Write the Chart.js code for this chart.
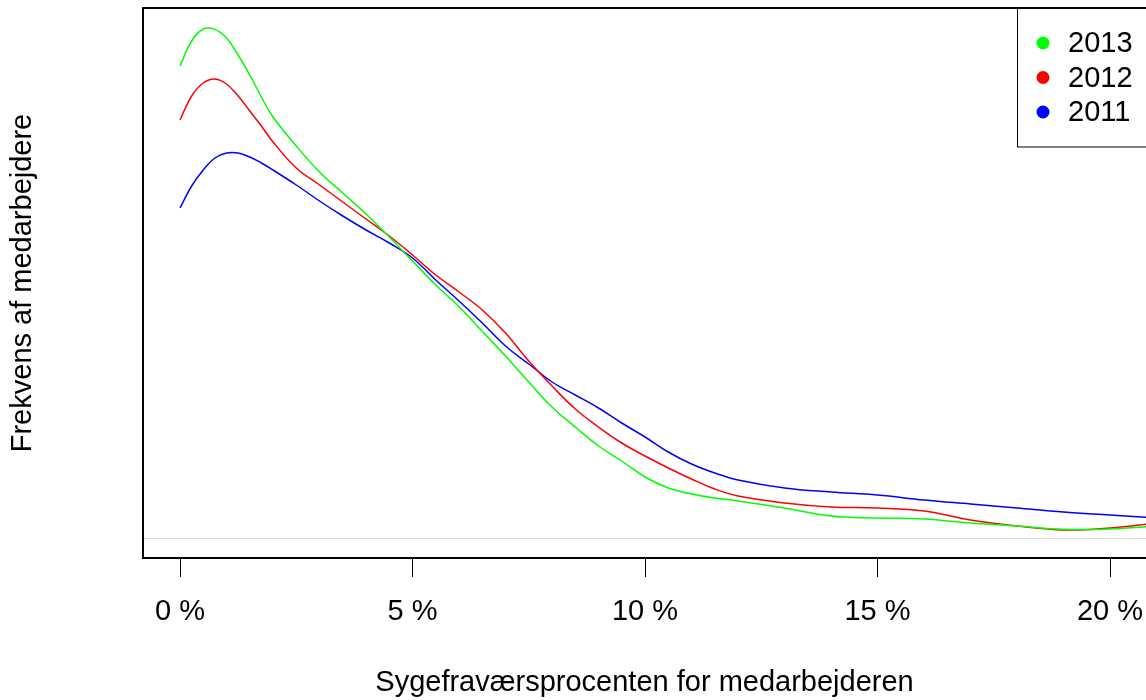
<!DOCTYPE html>
<html>
<head>
<meta charset="utf-8">
<script src="https://cdn.jsdelivr.net/npm/chart.js@4"></script>
<style>
  html, body { margin: 0; padding: 0; background: #fff; overflow: hidden; }
  #wrap { width: 1146px; height: 700px; }
</style>
</head>
<body>
<div id="wrap"><canvas id="c" width="1146" height="700"></canvas></div>
<script>
// ---- data ----
const sickPct = [0, 0.25, 0.5, 0.75, 1, 1.25, 1.5, 1.75, 2, 2.5, 3, 3.5, 4, 4.5, 5, 5.5, 6, 6.5, 7, 7.5, 8, 8.5, 9, 9.5, 10, 10.5, 11, 11.5, 12, 13, 14, 15, 16, 17, 18, 19, 20, 21];
const dens2013 = [0.1416, 0.1491, 0.1527, 0.1526, 0.1500, 0.1449, 0.1389, 0.1323, 0.1263, 0.1176, 0.1098, 0.1035, 0.0972, 0.0903, 0.0831, 0.0759, 0.0694, 0.0620, 0.0546, 0.0468, 0.0393, 0.0333, 0.0276, 0.0231, 0.0183, 0.0150, 0.0132, 0.0120, 0.0111, 0.0090, 0.0066, 0.0060, 0.0057, 0.0045, 0.0036, 0.0026, 0.0027, 0.0036];
const dens2012 = [0.1254, 0.1326, 0.1365, 0.1377, 0.1362, 0.1326, 0.1281, 0.1236, 0.1188, 0.1110, 0.1059, 0.1008, 0.0957, 0.0906, 0.0849, 0.0789, 0.0738, 0.0684, 0.0615, 0.0531, 0.0456, 0.0387, 0.0333, 0.0285, 0.0246, 0.0210, 0.0177, 0.0147, 0.0126, 0.0105, 0.0093, 0.0090, 0.0081, 0.0054, 0.0036, 0.0024, 0.0030, 0.0045];
const dens2011 = [0.0990, 0.1056, 0.1104, 0.1140, 0.1155, 0.1155, 0.1143, 0.1125, 0.1104, 0.1059, 0.1011, 0.0966, 0.0924, 0.0885, 0.0840, 0.0774, 0.0711, 0.0645, 0.0576, 0.0522, 0.0468, 0.0429, 0.0390, 0.0345, 0.0303, 0.0258, 0.0222, 0.0195, 0.0174, 0.0150, 0.0138, 0.0129, 0.0114, 0.0102, 0.0090, 0.0078, 0.0069, 0.0060];
const seriesLabels = ['2013', '2012', '2011'];
const seriesColors = ['#00ff00', '#ff0000', '#0000ff'];
const xTickValues = [0, 5, 10, 15, 20];
const xTitle = 'Sygefraværsprocenten for medarbejderen';
const yTitle = 'Frekvens af medarbejdere';

const FONT = "'Liberation Sans', Arial, sans-serif";
const toPts = arr => sickPct.map((x, i) => ({ x: x, y: arr[i] }));
const allSeries = [dens2013, dens2012, dens2011];

const legendPlugin = {
  id: 'rLegend',
  afterDraw(chart) {
    const { ctx, chartArea } = chart;
    ctx.save();
    // top frame line of the plot box
    ctx.strokeStyle = '#000';
    ctx.lineWidth = 2;
    ctx.beginPath();
    ctx.moveTo(chartArea.left - 1, chartArea.top);
    ctx.lineTo(chartArea.right + 2, chartArea.top);
    ctx.stroke();
    // legend box
    const boxLeft = chartArea.right - 129;
    const boxTop = chartArea.top;
    ctx.lineWidth = 1;
    ctx.strokeRect(boxLeft + 0.5, boxTop, 200, 139);
    ctx.font = '29px ' + FONT;
    ctx.textBaseline = 'middle';
    ctx.textAlign = 'left';
    chart.data.datasets.forEach((ds, i) => {
      const cy = boxTop + 35 + i * 34.5;
      ctx.fillStyle = ds.borderColor;
      ctx.beginPath();
      ctx.arc(boxLeft + 26, cy, 6.5, 0, Math.PI * 2);
      ctx.fill();
      ctx.fillStyle = '#000';
      ctx.fillText(ds.label, boxLeft + 51, cy + 1);
    });
    ctx.restore();
  }
};

new Chart(document.getElementById('c'), {
  type: 'line',
  data: {
    datasets: seriesLabels.map((lab, i) => ({
      label: lab,
      data: toPts(allSeries[i]),
      borderColor: seriesColors[i],
      backgroundColor: seriesColors[i],
      borderWidth: 1.5,
      pointRadius: 0,
      fill: false,
      tension: 0.4
    }))
  },
  options: {
    responsive: false,
    animation: false,
    layout: { padding: { top: 8, right: 0, left: 0, bottom: 0 } },
    plugins: { legend: { display: false }, tooltip: { enabled: false } },
    scales: {
      x: {
        type: 'linear',
        min: -0.796,
        max: 20.774,
        afterBuildTicks: s => { s.ticks = xTickValues.map(v => ({ value: v })); },
        afterFit: s => { s.height = 142; s.paddingLeft = 0; s.paddingRight = 0; },
        ticks: {
          color: '#000',
          font: { family: FONT, size: 29 },
          padding: 18,
          maxRotation: 0,
          callback: v => v + ' %'
        },
        grid: { drawOnChartArea: false, drawTicks: true, tickLength: 19, tickColor: '#000', tickWidth: 1, color: '#000' },
        border: { display: true, color: '#000', width: 2 },
        title: { display: true, text: xTitle, color: '#000', font: { family: FONT, size: 29 }, padding: { top: 0, bottom: 0 } }
      },
      y: {
        type: 'linear',
        min: -0.006,
        max: 0.159,
        afterBuildTicks: s => { s.ticks = [{ value: 0 }]; },
        afterFit: s => { s.width = 143; },
        ticks: { display: false },
        grid: { drawTicks: false, color: '#dcdcdc', lineWidth: 1 },
        border: { display: true, color: '#000', width: 2 },
        title: { display: true, text: yTitle, color: '#000', font: { family: FONT, size: 29 }, padding: { top: 6, bottom: 0 } }
      }
    }
  },
  plugins: [legendPlugin]
});
</script>
</body>
</html>
